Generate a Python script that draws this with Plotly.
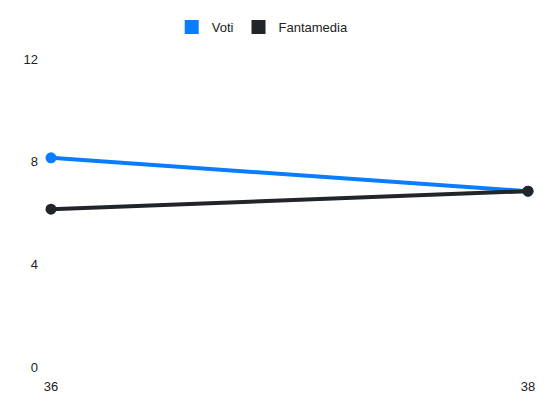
import plotly.graph_objects as go

giornate = ['36', '38']
voti = [8.15, 6.85]
fantamedia = [6.15, 6.85]
y_ticks = [0, 4, 8, 12]

blu = '#0a7cff'
scuro = '#212529'

fig = go.Figure()
fig.add_trace(go.Scatter(x=giornate, y=voti, mode='lines+markers', name='Voti',
                         line=dict(color=blu, width=4), marker=dict(size=11, color=blu),
                         cliponaxis=False, showlegend=False))
fig.add_trace(go.Scatter(x=giornate, y=fantamedia, mode='lines+markers', name='Fantamedia',
                         line=dict(color=scuro, width=4), marker=dict(size=11, color=scuro),
                         cliponaxis=False, showlegend=False))
# legend entries with square swatches
fig.add_trace(go.Scatter(x=[None], y=[None], mode='markers', name='Voti',
                         marker=dict(symbol='square', size=14, color=blu)))
fig.add_trace(go.Scatter(x=[None], y=[None], mode='markers', name='Fantamedia',
                         marker=dict(symbol='square', size=14, color=scuro)))

# page body has an 8px margin, so the figure is sized a bit smaller
fig.update_layout(
    width=534, height=396,
    margin=dict(l=43, r=14, t=51, b=37, autoexpand=False),
    paper_bgcolor='white', plot_bgcolor='white',
    font=dict(family='Liberation Sans, Arial, sans-serif', size=13, color='#222'),
    legend=dict(orientation='h', xref='container', yref='container',
                x=0.477, xanchor='center', y=0.952, yanchor='middle',
                font=dict(size=13), itemwidth=30),
    xaxis=dict(type='category', range=[0, 1], showgrid=False, zeroline=False,
               showline=False, ticks='', ticklabelstandoff=10, automargin=False),
    yaxis=dict(range=[0, 12], tickvals=y_ticks, showgrid=False, zeroline=False,
               showline=False, ticks='', ticklabelstandoff=12, automargin=False),
)

fig.write_html("out.html")
